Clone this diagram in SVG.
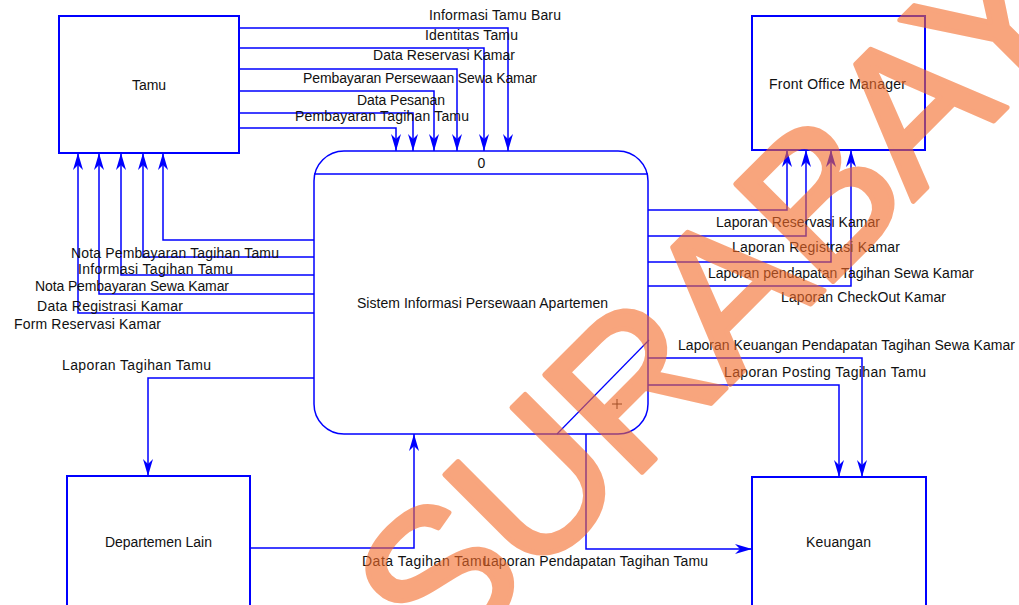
<svg xmlns="http://www.w3.org/2000/svg" width="1019" height="605" viewBox="0 0 1019 605">
<style>
.box{fill:#fff;stroke:#0000ff;stroke-width:2}
.proc{fill:#fff;stroke:#0000ff;stroke-width:1.5}
.ln{fill:none;stroke:#0000ff;stroke-width:1.5;marker-end:url(#arr)}
text{font-family:"Liberation Sans",Arial,sans-serif;font-size:14px;fill:#111}
.c{text-anchor:middle}
.wm{font-family:"Liberation Sans",Arial,sans-serif;font-size:200px;letter-spacing:-4px;fill:#f56a28;stroke:#f56a28;stroke-width:5;stroke-linejoin:round}
</style>
<defs>
<marker id="arr" viewBox="-18 -6 19 12" refX="0" refY="0" markerWidth="19" markerHeight="12" markerUnits="userSpaceOnUse" orient="auto">
<path d="M0,0 L-17,-5 L-12,0 L-17,5 Z" fill="#0000ff"/>
</marker>
</defs>
<rect width="1019" height="605" fill="#fff"/>
<g id="connectors">
<path class="ln" d="M239,28 H508 V151"/>
<path class="ln" d="M239,48 H484 V151"/>
<path class="ln" d="M239,69 H457 V151"/>
<path class="ln" d="M239,91 H434 V151"/>
<path class="ln" d="M239,113 H413 V151"/>
<path class="ln" d="M239,128 H396 V151"/>
<path class="ln" d="M314,240 H163 V153"/>
<path class="ln" d="M314,257 H143 V153"/>
<path class="ln" d="M314,275 H121 V153"/>
<path class="ln" d="M314,294 H99 V153"/>
<path class="ln" d="M314,313 H78 V153"/>
<path class="ln" d="M314,378 H148 V476"/>
<path class="ln" d="M250,548 H414 V434"/>
<path class="ln" d="M586,434 V549 H752"/>
<path class="ln" d="M648,210 H787 V150"/>
<path class="ln" d="M648,236 H806 V150"/>
<path class="ln" d="M648,262 H831 V150"/>
<path class="ln" d="M648,286 H851 V150"/>
<path class="ln" d="M648,358 H862 V477"/>
<path class="ln" d="M648,385 H839 V477"/>
<text x="429" y="20" textLength="132" lengthAdjust="spacing">Informasi Tamu Baru</text>
<text x="425" y="40" textLength="93" lengthAdjust="spacing">Identitas Tamu</text>
<text x="373" y="60" textLength="142" lengthAdjust="spacing">Data Reservasi Kamar</text>
<text x="303" y="83" textLength="234" lengthAdjust="spacing">Pembayaran Persewaan Sewa Kamar</text>
<text x="357" y="105" textLength="88" lengthAdjust="spacing">Data Pesanan</text>
<text x="295" y="121" textLength="174" lengthAdjust="spacing">Pembayaran Tagihan Tamu</text>
<text x="71" y="257.5" textLength="208" lengthAdjust="spacing">Nota Pembayaran Tagihan Tamu</text>
<text x="78" y="274" textLength="155" lengthAdjust="spacing">Informasi Tagihan Tamu</text>
<text x="35" y="291" textLength="194" lengthAdjust="spacing">Nota Pembayaran Sewa Kamar</text>
<text x="37" y="310.5" textLength="146" lengthAdjust="spacing">Data Registrasi Kamar</text>
<text x="14" y="329" textLength="147" lengthAdjust="spacing">Form Reservasi Kamar</text>
<text x="62" y="370" textLength="149" lengthAdjust="spacing">Laporan Tagihan Tamu</text>
<text x="362" y="566" textLength="128" lengthAdjust="spacing">Data Tagihan Tamu</text>
<text x="483" y="566" textLength="225" lengthAdjust="spacing">Laporan Pendapatan Tagihan Tamu</text>
<text x="716" y="226.5" textLength="164" lengthAdjust="spacing">Laporan Reservasi Kamar</text>
<text x="732" y="252" textLength="168" lengthAdjust="spacing">Laporan Registrasi Kamar</text>
<text x="708" y="278" textLength="266" lengthAdjust="spacing">Laporan pendapatan Tagihan Sewa Kamar</text>
<text x="781" y="301.5" textLength="165" lengthAdjust="spacing">Laporan CheckOut Kamar</text>
<text x="678" y="350" textLength="337" lengthAdjust="spacing">Laporan Keuangan Pendapatan Tagihan Sewa Kamar</text>
<text x="724" y="377" textLength="202" lengthAdjust="spacing">Laporan Posting Tagihan Tamu</text>
</g>
<g id="tamu">
<rect class="box" x="59" y="16" width="180" height="137"/>
<text class="c" x="149" y="90">Tamu</text>
</g>
<g id="front-office-manager">
<rect class="box" x="752" y="16" width="173" height="134"/>
<text x="769" y="89" textLength="137" lengthAdjust="spacing">Front Office Manager</text>
</g>
<g id="departemen-lain">
<rect class="box" x="67" y="476" width="183" height="145"/>
<text x="105" y="547" textLength="107" lengthAdjust="spacing">Departemen Lain</text>
</g>
<g id="keuangan">
<rect class="box" x="752" y="477" width="174" height="145"/>
<text x="806" y="547" textLength="65" lengthAdjust="spacing">Keuangan</text>
</g>
<g id="process-0">
<rect class="proc" x="314" y="151" width="334" height="283" rx="30" ry="30"/>
<line x1="314" y1="174" x2="648" y2="174" stroke="#0000ff" stroke-width="1.5"/>
<text class="c" x="481.5" y="168">0</text>
<text x="357" y="308" textLength="251" lengthAdjust="spacing">Sistem Informasi Persewaan Apartemen</text>
<line x1="649" y1="340" x2="557" y2="434" stroke="#0000ff" stroke-width="1.2"/>
<path d="M612,404 H622 M617,399 V409" stroke="#222" stroke-width="1"/>
</g>
<g id="watermark" opacity="0.6">
<text class="wm" transform="rotate(-45)" x="-166" y="788">SURABAYA</text>
</g>
</svg>
